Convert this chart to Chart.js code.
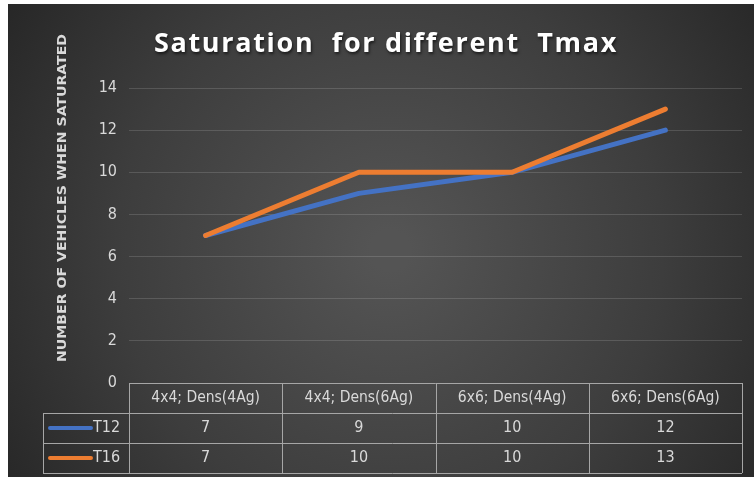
<!DOCTYPE html>
<html>
<head>
<meta charset="utf-8">
<script src="https://cdn.jsdelivr.net/npm/chart.js@4.4.1/dist/chart.umd.min.js"></script>
<style>
  html, body { margin: 0; padding: 0; background: #fff; }
  canvas { display: block; }
</style>
</head>
<body>
<canvas id="satChart" width="754" height="482"></canvas>
<script>
// chart values
const categories = ['4x4; Dens(4Ag)', '4x4; Dens(6Ag)', '6x6; Dens(4Ag)', '6x6; Dens(6Ag)'];
const seriesNames = ['T12', 'T16'];
const t12Values = [7, 9, 10, 12];
const t16Values = [7, 10, 10, 13];
const yTickValues = [0, 2, 4, 6, 8, 10, 12, 14];

const chartTitle = 'Saturation  for different  Tmax';
const yAxisTitle = 'NUMBER OF VEHICLES WHEN SATURATED';

const BLUE = '#4472C4';
const ORANGE = '#ED7D31';
const TEXT = '#d9d9d9';
const narrow = "'Liberation Sans Narrow', 'DejaVu Sans Condensed', sans-serif";

// dark radial background like the Excel style
const backgroundPlugin = {
    id: 'bg',
    beforeDraw(chart) {
        const ctx = chart.ctx;
        ctx.save();
        ctx.fillStyle = '#ffffff';
        ctx.fillRect(0, 0, chart.width, chart.height);
        const g = ctx.createRadialGradient(390, 250, 20, 390, 250, 480);
        g.addColorStop(0, '#545454');
        g.addColorStop(0.55, '#3d3d3d');
        g.addColorStop(1, '#242424');
        ctx.fillStyle = g;
        ctx.fillRect(8, 4, 746, 473);
        ctx.restore();
    }
};

// title, rotated axis title and the data table under the plot
const decorPlugin = {
    id: 'decor',
    afterDraw(chart) {
        const ctx = chart.ctx;
        const area = chart.chartArea;
        const xs = chart.scales.x;

        // title
        ctx.save();
        ctx.font = "bold 27px 'Open Sans', sans-serif";
        const w = ctx.measureText(chartTitle).width;
        ctx.letterSpacing = ((464 - w) / chartTitle.length).toFixed(2) + 'px';
        ctx.fillStyle = '#ffffff';
        ctx.textAlign = 'center';
        ctx.textBaseline = 'middle';
        ctx.shadowColor = 'rgba(0,0,0,0.6)';
        ctx.shadowBlur = 3;
        ctx.shadowOffsetX = 1;
        ctx.shadowOffsetY = 2;
        ctx.fillText(chartTitle, 386, 44);
        ctx.restore();

        // y axis title
        ctx.save();
        ctx.font = "bold 12px 'DejaVu Sans Condensed', sans-serif";
        const tw = ctx.measureText(yAxisTitle).width;
        ctx.translate(63, 198);
        ctx.rotate(-Math.PI / 2);
        ctx.scale(328 / tw, 1);
        ctx.fillStyle = TEXT;
        ctx.textAlign = 'center';
        ctx.textBaseline = 'middle';
        ctx.fillText(yAxisTitle, 0, 0);
        ctx.restore();

        // data table
        const band = (area.right - area.left) / categories.length;
        const top = area.bottom;
        const rowH = 30;
        const legendLeft = 43;
        const rows = [t12Values, t16Values];
        const colors = [BLUE, ORANGE];

        ctx.save();
        ctx.strokeStyle = '#a6a6a6';
        ctx.lineWidth = 1;
        ctx.beginPath();
        ctx.moveTo(area.left, top + 0.5);
        ctx.lineTo(area.right, top + 0.5);
        for (let r = 1; r <= rows.length + 1; r++) {
            const y = Math.round(top + r * rowH) + 0.5;
            ctx.moveTo(legendLeft, y);
            ctx.lineTo(area.right, y);
        }
        for (let c = 0; c <= categories.length; c++) {
            const x = Math.round(area.left + c * band) + 0.5;
            ctx.moveTo(x, top);
            ctx.lineTo(x, top + rowH * (rows.length + 1));
        }
        ctx.moveTo(legendLeft + 0.5, top + rowH);
        ctx.lineTo(legendLeft + 0.5, top + rowH * (rows.length + 1));
        ctx.stroke();

        ctx.fillStyle = TEXT;
        ctx.font = '15.5px ' + narrow;
        ctx.textAlign = 'center';
        ctx.textBaseline = 'middle';
        categories.forEach((cat, i) => {
            ctx.fillText(cat, xs.getPixelForValue(i), top + rowH / 2);
        });
        ctx.font = '16px ' + narrow;
        rows.forEach((vals, r) => {
            const cy = top + rowH * (r + 1.5);
            vals.forEach((v, i) => {
                ctx.fillStyle = TEXT;
                ctx.textAlign = 'center';
                ctx.fillText(String(v), xs.getPixelForValue(i), cy);
            });
            ctx.strokeStyle = colors[r];
            ctx.lineWidth = 4;
            ctx.lineCap = 'round';
            ctx.beginPath();
            ctx.moveTo(50, cy);
            ctx.lineTo(91, cy);
            ctx.stroke();
            ctx.fillStyle = TEXT;
            ctx.textAlign = 'left';
            ctx.fillText(seriesNames[r], 93, cy);
        });
        ctx.restore();
    }
};

const ctx = document.getElementById('satChart').getContext('2d');
new Chart(ctx, {
    type: 'line',
    data: {
        labels: categories,
        datasets: [
            {
                label: seriesNames[0],
                data: t12Values,
                borderColor: BLUE,
                borderWidth: 5,
                pointRadius: 0,
                borderCapStyle: 'round',
                borderJoinStyle: 'round',
                order: 1
            },
            {
                label: seriesNames[1],
                data: t16Values,
                borderColor: ORANGE,
                borderWidth: 5,
                pointRadius: 0,
                borderCapStyle: 'round',
                borderJoinStyle: 'round',
                order: 0
            }
        ]
    },
    options: {
        responsive: false,
        devicePixelRatio: 1,
        animation: false,
        layout: {
            padding: { left: 8, top: 88, right: 12, bottom: 99 }
        },
        plugins: {
            legend: { display: false },
            title: { display: false },
            tooltip: { enabled: false }
        },
        scales: {
            x: {
                type: 'category',
                display: false,
                offset: true
            },
            y: {
                min: 0,
                max: 14,
                afterBuildTicks(scale) {
                    scale.ticks = yTickValues.map(v => ({ value: v }));
                },
                afterFit(scale) {
                    scale.width = 121;
                },
                border: { display: false },
                grid: {
                    color: 'rgba(255,255,255,0.14)',
                    lineWidth: 1,
                    drawTicks: false
                },
                ticks: {
                    color: TEXT,
                    padding: 12,
                    font: { size: 16, family: narrow }
                }
            }
        }
    },
    plugins: [backgroundPlugin, decorPlugin]
});
</script>
</body>
</html>
